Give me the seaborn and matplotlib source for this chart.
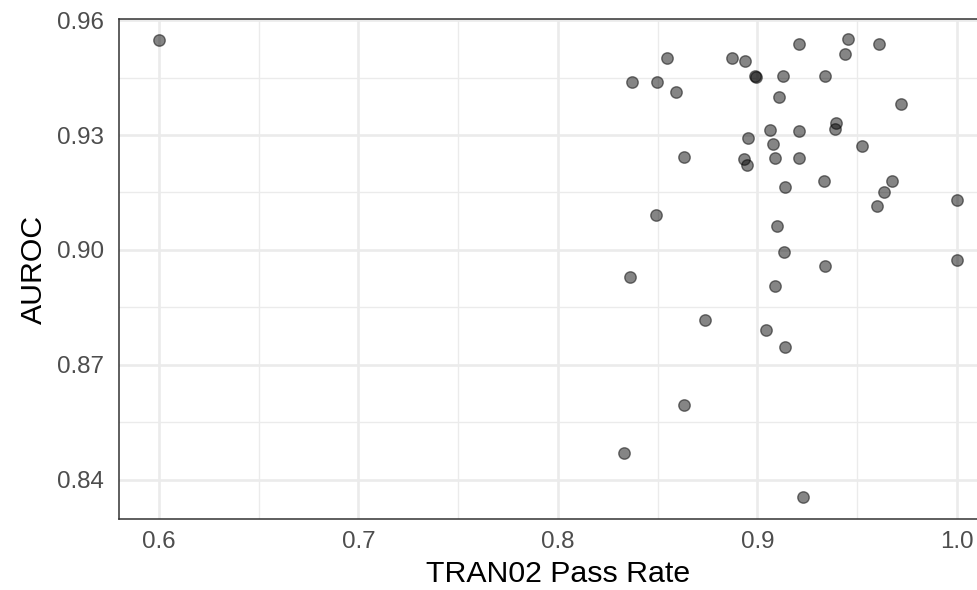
import matplotlib
matplotlib.use("Agg")
import matplotlib.pyplot as plt
import seaborn as sns
import pandas as pd
from matplotlib.ticker import FixedLocator

pass_rate = [0.600, 0.9211, 0.9456, 0.9612, 0.9441, 0.8548, 0.8873, 0.8936,
             0.8990, 0.8992, 0.9127, 0.9338, 0.8371, 0.8497, 0.8590, 0.9109,
             0.9722, 0.9393, 0.9390, 0.9065, 0.9209, 0.8953, 0.9080, 0.9523,
             0.8632, 0.8935, 0.8946, 0.9087, 0.9209, 0.9333, 0.9677, 0.9137,
             0.9637, 0.9600, 1.0000, 0.8490, 0.9099, 0.9132, 1.0000, 0.9338,
             0.8361, 0.9090, 0.8737, 0.9042, 0.9139, 0.8632, 0.8331, 0.9231]
auroc = [0.9548, 0.9537, 0.9550, 0.9538, 0.9512, 0.9502, 0.9502, 0.9493,
         0.9455, 0.9451, 0.9455, 0.9455, 0.9438, 0.9438, 0.9412, 0.9398,
         0.9382, 0.9332, 0.9316, 0.9314, 0.9310, 0.9292, 0.9276, 0.9272,
         0.9243, 0.9237, 0.9222, 0.9240, 0.9240, 0.9180, 0.9180, 0.9163,
         0.9152, 0.9115, 0.9131, 0.9090, 0.9062, 0.8994, 0.8973, 0.8958,
         0.8928, 0.8906, 0.8818, 0.8791, 0.8746, 0.8595, 0.8469, 0.8355]

x_ticks = [0.6, 0.7, 0.8, 0.9, 1.0]
y_ticks = [0.84, 0.87, 0.90, 0.93, 0.96]
x_title = "TRAN02 Pass Rate"
y_title = "AUROC"

df = pd.DataFrame({"pass_rate": pass_rate, "auroc": auroc})

sns.set_theme(style="white")
plt.rcParams["font.family"] = ["Liberation Sans", "DejaVu Sans"]

W, H = 978, 590
fig = plt.figure(figsize=(W / 100, H / 100), dpi=100)
left_px, top_px, bottom_px = 119, 19, 519
xlim = (0.58, 1.02)
px_per_unit = 1995.0
width_px = (xlim[1] - xlim[0]) * px_per_unit
ax = fig.add_axes([left_px / W, 1 - bottom_px / H, width_px / W, (bottom_px - top_px) / H])

sns.scatterplot(data=df, x="pass_rate", y="auroc", ax=ax,
                s=68, facecolor=(0, 0, 0, 0.48), edgecolor=(0, 0, 0, 0.5),
                linewidth=1.0, zorder=3, legend=False)

ax.set_xlim(*xlim)
ax.set_ylim(0.8297, 0.9603)
ax.xaxis.set_major_locator(FixedLocator(x_ticks))
ax.yaxis.set_major_locator(FixedLocator(y_ticks))
ax.xaxis.set_minor_locator(FixedLocator([0.65, 0.75, 0.85, 0.95]))
ax.yaxis.set_minor_locator(FixedLocator([0.855, 0.885, 0.915, 0.945]))
ax.set_xticklabels([f"{v:.1f}" for v in x_ticks])
ax.set_yticklabels([f"{v:.2f}" for v in y_ticks])

ax.set_facecolor("white")
ax.grid(which="major", color="#EBEBEB", linewidth=1.9, zorder=0)
ax.grid(which="minor", color="#EBEBEB", linewidth=0.95, zorder=0)
ax.set_axisbelow(True)
for sp in ax.spines.values():
    sp.set_color("#333333")
    sp.set_linewidth(1.1)
    sp.set_visible(True)

ax.tick_params(axis="both", which="major", length=5.5, width=1.1, color="#333333",
               labelsize=17.4, labelcolor="#4D4D4D", direction="out")
ax.tick_params(axis="x", which="major", pad=3)
ax.tick_params(axis="y", which="major", pad=5.5)
ax.tick_params(axis="both", which="minor", length=0)

ax.set_xlabel(x_title, fontsize=21.8, color="black", labelpad=5.5)
ax.set_ylabel(y_title, fontsize=21.8, color="black", labelpad=6.5)

fig.savefig("out.png", dpi=100, facecolor="white")
